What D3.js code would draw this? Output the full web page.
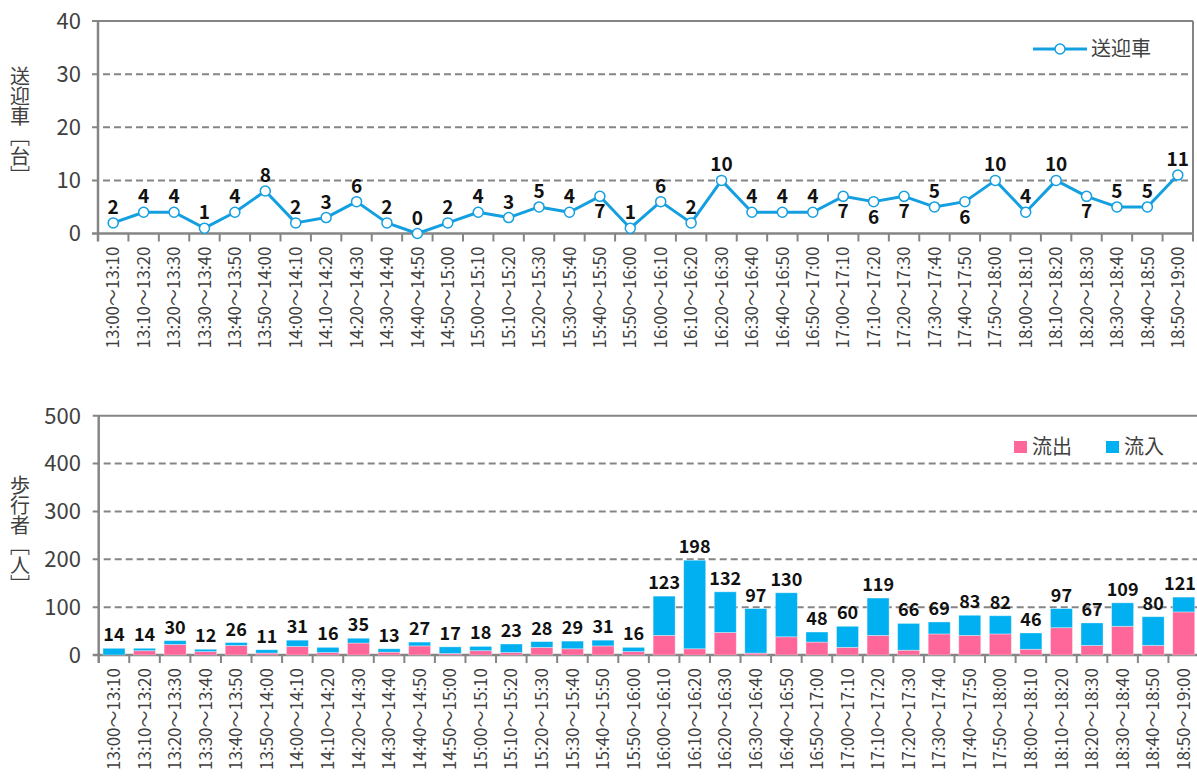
<!DOCTYPE html>
<html>
<head>
<meta charset="utf-8">
<script src="https://cdn.jsdelivr.net/npm/d3@7"></script>
<style>
  body { margin: 0; background: #fff; }
  svg { display: block; font-family: "Noto Sans CJK JP", "Noto Sans", sans-serif; }
</style>
</head>
<body>
<svg id="chart" width="1197" height="778"></svg>
<script>
// time slots (10 min)
const slots = [
  "13:00～13:10","13:10～13:20","13:20～13:30","13:30～13:40","13:40～13:50","13:50～14:00",
  "14:00～14:10","14:10～14:20","14:20～14:30","14:30～14:40","14:40～14:50","14:50～15:00",
  "15:00～15:10","15:10～15:20","15:20～15:30","15:30～15:40","15:40～15:50","15:50～16:00",
  "16:00～16:10","16:10～16:20","16:20～16:30","16:30～16:40","16:40～16:50","16:50～17:00",
  "17:00～17:10","17:10～17:20","17:20～17:30","17:30～17:40","17:40～17:50","17:50～18:00",
  "18:00～18:10","18:10～18:20","18:20～18:30","18:30～18:40","18:40～18:50","18:50～19:00"
];

// 送迎車 [台]
const cars = [2,4,4,1,4,8,2,3,6,2,0,2,4,3,5,4,7,1,6,2,10,4,4,4,7,6,7,5,6,10,4,10,7,5,5,11];
// labels drawn under the point instead of above
const carsLabelBelow = [16,24,25,26,28,32];

// 歩行者 [人]
const outflow = [0,9,22,7,20,4,18,5,25,6,19,3,9,5,16,13,19,7,41,13,47,4,38,27,16,41,10,44,41,44,12,57,20,60,20,90];
const inflow  = [14,5,8,5,6,7,13,11,10,7,8,14,9,18,12,16,12,9,82,185,85,93,92,21,44,78,56,25,42,38,34,40,47,49,60,31];

const carTicks = [0,10,20,30,40];
const walkTicks = [0,100,200,300,400,500];

const blueLine = "#149fe0";
const pink = "#ff6699";
const cyan = "#00b0f0";
const axisCol = "#858585";
const textCol = "#404040";

const svg = d3.select("#chart");

function drawFrame(g, x, y, ticks, opts) {
  const [x0, x1] = x.range();
  const [yb, yt] = y.range();
  // grid
  g.selectAll(".grid").data(ticks.filter(t => t > 0 && t < ticks[ticks.length - 1]))
    .enter().append("line")
    .attr("x1", x0 - 6).attr("x2", opts.right)
    .attr("y1", d => y(d)).attr("y2", d => y(d))
    .attr("stroke", axisCol).attr("stroke-width", 2)
    .attr("stroke-dasharray", "7,4");
  // top line
  g.append("line")
    .attr("x1", x0 - 6).attr("x2", opts.right)
    .attr("y1", yt).attr("y2", yt)
    .attr("stroke", axisCol).attr("stroke-width", 2);
  if (opts.rightBorder) {
    g.append("line")
      .attr("x1", opts.right).attr("x2", opts.right)
      .attr("y1", yt).attr("y2", yb)
      .attr("stroke", axisCol).attr("stroke-width", 2);
  }
  // y axis
  g.append("line")
    .attr("x1", x0).attr("x2", x0)
    .attr("y1", yt).attr("y2", yb + 8)
    .attr("stroke", axisCol).attr("stroke-width", 2.5);
  // x axis
  g.append("line")
    .attr("x1", x0 - 6).attr("x2", opts.right)
    .attr("y1", yb).attr("y2", yb)
    .attr("stroke", axisCol).attr("stroke-width", 2.5);
  // x ticks at band edges
  const step = x.step();
  g.selectAll(".xtick").data(d3.range(1, slots.length + 1))
    .enter().append("line")
    .attr("x1", i => x0 + i * step).attr("x2", i => x0 + i * step)
    .attr("y1", yb).attr("y2", yb + 8)
    .attr("stroke", axisCol).attr("stroke-width", 2);
  // y labels
  g.selectAll(".ylab").data(ticks)
    .enter().append("text")
    .attr("x", 81).attr("y", d => y(d))
    .attr("dy", "0.36em")
    .attr("text-anchor", "end")
    .attr("font-size", 22)
    .attr("fill", textCol)
    .text(d => d);
  // x labels
  g.selectAll(".xlab").data(slots)
    .enter().append("text")
    .attr("transform", d => `translate(${x(d) + x.bandwidth() / 2},${yb + opts.labelGap}) rotate(-90)`)
    .attr("dy", "0.36em")
    .attr("text-anchor", "end")
    .attr("font-size", 17)
    .attr("fill", textCol)
    .text(d => d);
  // y title (vertical)
  g.append("text")
    .attr("x", 20).attr("y", opts.titleY)
    .attr("font-size", 20)
    .attr("fill", textCol)
    .style("writing-mode", "vertical-rl")
    .text(opts.title);
}

// ---------- top: 送迎車 ----------
const xTop = d3.scaleBand().domain(slots).range([98, 1193]);
const yTop = d3.scaleLinear().domain([0, 40]).range([233.5, 21]);
const gTop = svg.append("g");
drawFrame(gTop, xTop, yTop, carTicks, { right: 1193, rightBorder: true, labelGap: 13, title: "送迎車［台］", titleY: 66 });

const cx = (d, i) => xTop(slots[i]) + xTop.bandwidth() / 2;
const line = d3.line().x((d, i) => cx(d, i)).y(d => yTop(d));
gTop.append("path").datum(cars)
  .attr("d", line).attr("fill", "none")
  .attr("stroke", blueLine).attr("stroke-width", 3).attr("stroke-linejoin", "round");
gTop.selectAll(".pt").data(cars).enter().append("circle")
  .attr("cx", cx).attr("cy", d => yTop(d)).attr("r", 5)
  .attr("fill", "#fff").attr("stroke", blueLine).attr("stroke-width", 1.5);
gTop.selectAll(".lab").data(cars).enter().append("text")
  .attr("x", cx)
  .attr("y", (d, i) => carsLabelBelow.includes(i) ? yTop(d) + 22 : yTop(d) - 9)
  .attr("text-anchor", "middle")
  .attr("font-size", 19).attr("font-weight", "bold").attr("fill", "#111")
  .text(d => d);

// legend top
const lgTop = gTop.append("g");
lgTop.append("line").attr("x1", 1033).attr("x2", 1087).attr("y1", 49).attr("y2", 49)
  .attr("stroke", blueLine).attr("stroke-width", 3);
lgTop.append("circle").attr("cx", 1060).attr("cy", 49).attr("r", 5)
  .attr("fill", "#fff").attr("stroke", blueLine).attr("stroke-width", 1.5);
lgTop.append("text").attr("x", 1091).attr("y", 49).attr("dy", "0.36em")
  .attr("font-size", 20).attr("fill", textCol).text("送迎車");

// ---------- bottom: 歩行者 ----------
const xBot = d3.scaleBand().domain(slots).range([98.7, 1199]).paddingInner(0.28).paddingOuter(0.14);
const yBot = d3.scaleLinear().domain([0, 500]).range([655, 415.7]);
const gBot = svg.append("g");
drawFrame(gBot, xBot, yBot, walkTicks, { right: 1197, rightBorder: false, labelGap: 13, title: "歩行者［人］", titleY: 475 });

const stacked = d3.stack().keys(["out", "in"])(slots.map((s, i) => ({ slot: s, out: outflow[i], in: inflow[i] })));
const colors = { out: pink, in: cyan };
gBot.selectAll(".layer").data(stacked).enter().append("g")
  .attr("fill", d => colors[d.key])
  .selectAll("rect").data(d => d).enter().append("rect")
  .attr("x", d => xBot(d.data.slot))
  .attr("width", xBot.bandwidth())
  .attr("y", d => yBot(d[1]))
  .attr("height", d => yBot(d[0]) - yBot(d[1]))
  .attr("stroke", "rgba(255,255,255,0.45)").attr("stroke-width", 0.8);

gBot.selectAll(".tot").data(slots).enter().append("text")
  .attr("x", d => Math.min(xBot(d) + xBot.bandwidth() / 2, 1180))
  .attr("y", (d, i) => yBot(outflow[i] + inflow[i]) - 7)
  .attr("text-anchor", "middle")
  .attr("font-size", 18).attr("font-weight", "bold").attr("fill", "#111")
  .text((d, i) => outflow[i] + inflow[i]);

// legend bottom
const lgBot = gBot.append("g");
[["流出", pink, 1014], ["流入", cyan, 1106]].forEach(([name, col, lx]) => {
  lgBot.append("rect").attr("x", lx).attr("y", 441).attr("width", 13).attr("height", 12).attr("fill", col);
  lgBot.append("text").attr("x", lx + 18).attr("y", 447).attr("dy", "0.36em")
    .attr("font-size", 20).attr("fill", textCol).text(name);
});
</script>
</body>
</html>
